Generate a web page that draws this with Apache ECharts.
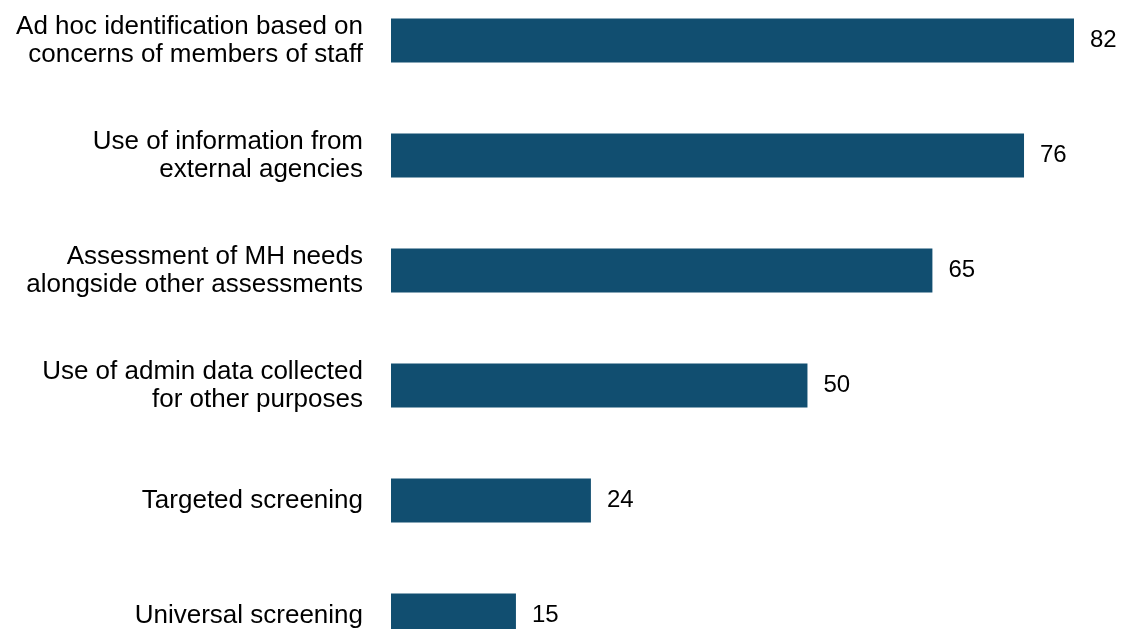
<!DOCTYPE html>
<html>
<head>
<meta charset="utf-8">
<script src="https://cdn.jsdelivr.net/npm/echarts@6/dist/echarts.min.js"></script>
<style>
html, body { margin: 0; padding: 0; background: #fff; overflow: hidden; width: 1124px; height: 629px; }
/* 图表区域向上偏移，让第一根柱子贴近顶部、最后一根被底边截断 */
#chartDiv { position: absolute; left: 0; top: -17.5px; width: 1124px; height: 690px; }
</style>
</head>
<body>
<div id="chartDiv"></div>
<script>
// 数据
var categories = [
    'Ad hoc identification based on\nconcerns of members of staff',
    'Use of information from\nexternal agencies',
    'Assessment of MH needs\nalongside other assessments',
    'Use of admin data collected\nfor other purposes',
    'Targeted screening',
    'Universal screening'
];
var values = [82, 76, 65, 50, 24, 15];

var myChart = echarts.init(document.getElementById('chartDiv'));
window.onresize = myChart.resize;

var option = {
    backgroundColor: '#ffffff',
    animation: false,
    textStyle: {
        fontFamily: 'Liberation Sans, Arial, sans-serif'
    },
    grid: {
        left: 391,
        right: 50,
        top: 0,
        bottom: 0,
        containLabel: false
    },
    xAxis: {
        type: 'value',
        min: 0,
        max: function (v) { return v.max; },
        show: false
    },
    yAxis: {
        type: 'category',
        data: categories,
        inverse: true,
        axisLine: { show: false },
        axisTick: { show: false },
        axisLabel: {
            margin: 28,
            fontSize: 26,
            lineHeight: 28,
            color: '#000000',
            align: 'right'
        }
    },
    series: [{
        type: 'bar',
        data: values,
        barWidth: 44,
        itemStyle: {
            color: '#114e70'
        },
        label: {
            show: true,
            position: 'right',
            distance: 16,
            fontSize: 24,
            color: '#000000'
        }
    }]
};
myChart.setOption(option);
</script>
</body>
</html>
